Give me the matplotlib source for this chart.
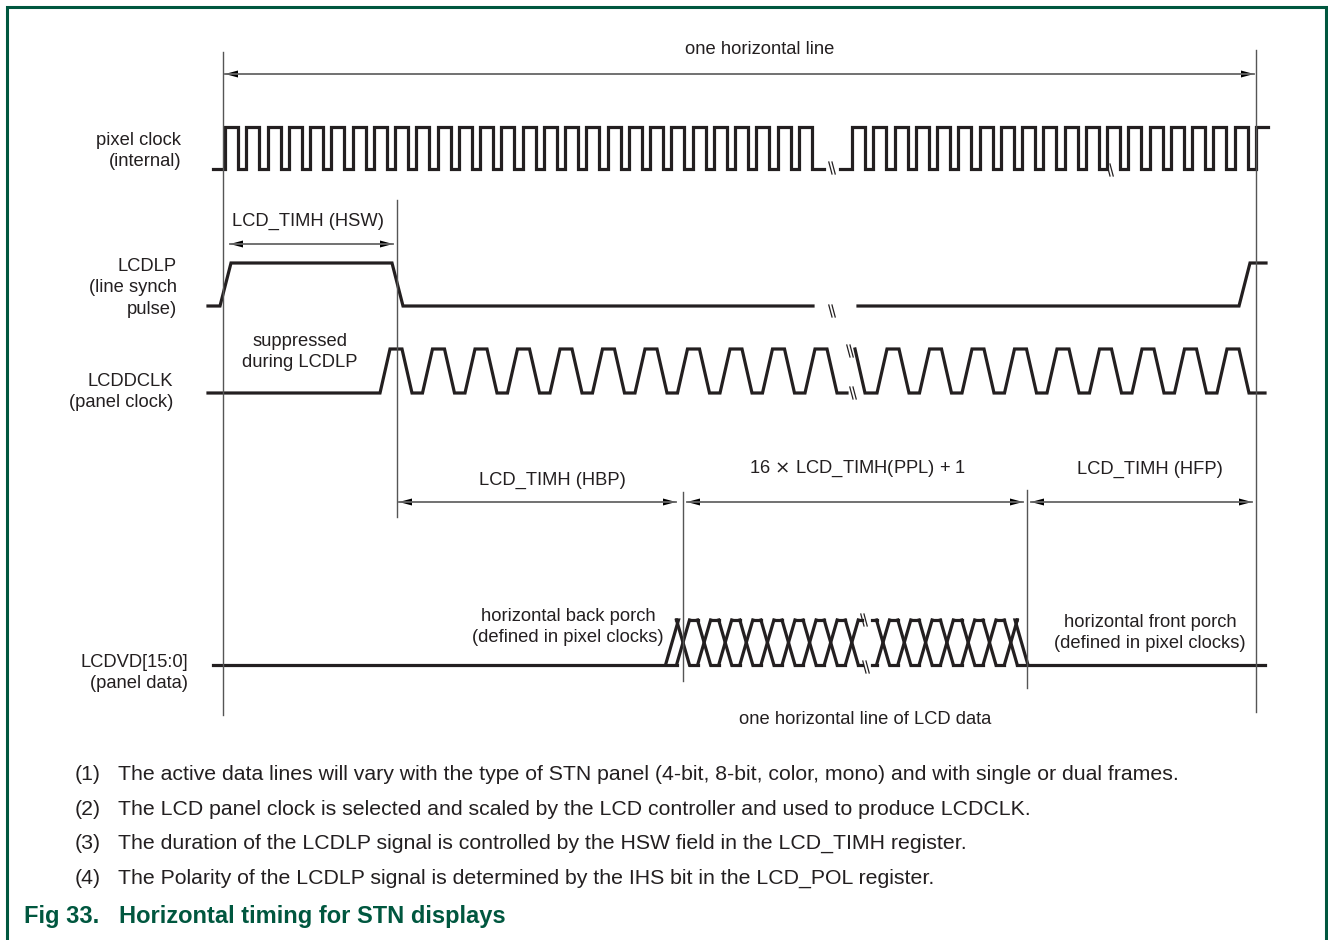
import matplotlib.pyplot as plt
from matplotlib.patches import Polygon

plt.rcParams['font.family'] = ['Liberation Sans', 'DejaVu Sans']

# ---- timing events along one horizontal line (diagram time units) ----
line_start = 223
hsw_end = 397
hbp_end = 683
ppl_end = 1027
line_end = 1256

# waveform levels (high, low)
pclk_lv = (127, 169)
lp_lv = (263, 306)
dclk_lv = (349, 393)
vd_lv = (620, 665)

# pixel clock: start, first rising edge, pulses, stop
pclk_period = 21.25
pclk_high = 13
pclk_segs = [(213, 225, 28, 824), (840, 852, 20, 1268)]

# LCDLP: segment start, rising edge, falling edge, stop
lp_edge = 11
lp_segs = [(208, 220, 392, 813), (858, 1239, None, 1266)]

# LCDDCLK: start, first rise, cycles, stop, starts high?
dclk_period = 42.5
dclk_rise, dclk_high, dclk_fall = 10, 12, 10
dclk_segs = [(208, 380, 11, 847, False), (855, 877, 9, 1265, True)]

# LCDVD bus: start, open, first crossing, crossings, close, stop
vd_period = [21.1, 21.3]
vd_half = 6.5
vd_segs = [(213, 672, 683, 9, None, 862), (872, None, 883, 7, 1021.5, 1265)]

# break marks (time, level)
breaks = [(832, 168), (1110, 170), (832, 311), (850, 351), (853, 393),
          (864, 620), (866, 667)]

labels = [("pixel clock\n(internal)", 181, 151),
          ("LCDLP\n(line synch\npulse)", 177, 288),
          ("LCDDCLK\n(panel clock)", 173, 392),
          ("LCDVD[15:0]\n(panel data)", 188, 673)]

notes = [
    "The active data lines will vary with the type of STN panel (4-bit, 8-bit, color, mono) and with single or dual frames.",
    "The LCD panel clock is selected and scaled by the LCD controller and used to produce LCDCLK.",
    "The duration of the LCDLP signal is controlled by the HSW field in the LCD_TIMH register.",
    "The Polarity of the LCDLP signal is determined by the IHS bit in the LCD_POL register.",
]

sig_col = '#231f20'
txt_col = '#231f20'
green = '#00573f'
fs = 13.2

fig = plt.figure(figsize=(13.28, 9.40), dpi=100)
ax = fig.add_axes([0, 0, 1, 1])
ax.set_xlim(0, 1328)
ax.set_ylim(940, 0)
ax.axis('off')


def wave(xs, ys):
    ax.plot(xs, ys, color=sig_col, lw=2.3, solid_joinstyle='miter')


# pixel clock
hi, lo = pclk_lv
for start, first, n, stop in pclk_segs:
    xs, ys = [start], [lo]
    for k in range(n):
        r = first + k * pclk_period
        f = min(r + pclk_high, stop)
        xs += [r, r, f]
        ys += [lo, hi, hi]
        if f < stop:
            xs += [f]
            ys += [lo]
    xs.append(stop)
    ys.append(ys[-1])
    wave(xs, ys)

# LCDLP
hi, lo = lp_lv
for start, rise, fall, stop in lp_segs:
    xs, ys = [start], [lo]
    if rise is not None:
        xs += [rise, rise + lp_edge]
        ys += [lo, hi]
    if fall is not None:
        xs += [fall, fall + lp_edge]
        ys += [hi, lo]
    xs.append(stop)
    ys.append(ys[-1])
    wave(xs, ys)

# LCDDCLK
hi, lo = dclk_lv
for start, first, n, stop, start_high in dclk_segs:
    if start_high:
        xs, ys = [start, start + dclk_fall], [hi, lo]
    else:
        xs, ys = [start], [lo]
    for k in range(n):
        r = first + k * dclk_period
        xs += [r, r + dclk_rise, r + dclk_rise + dclk_high,
               r + dclk_rise + dclk_high + dclk_fall]
        ys += [lo, hi, hi, lo]
    xs.append(stop)
    ys.append(lo)
    wave(xs, ys)

# LCDVD bus
hi, lo = vd_lv
h = vd_half
for (start, open_at, first, n, close_at, stop), per in zip(vd_segs, vd_period):
    cross = [first + k * per for k in range(n)]
    if open_at is not None:
        wave([start, cross[0] - h], [lo, lo])
        wave([open_at - h, open_at + h, cross[0] - h], [lo, hi, hi])
    else:
        wave([start, cross[0] - h], [lo, lo])
        wave([start, cross[0] - h], [hi, hi])
    for i, c in enumerate(cross):
        wave([c - h, c + h], [hi, lo])
        wave([c - h, c + h], [lo, hi])
        nxt = cross[i + 1] - h if i + 1 < n else None
        if nxt is not None:
            wave([c + h, nxt], [hi, hi])
            wave([c + h, nxt], [lo, lo])
    c = cross[-1]
    if close_at is not None:
        wave([c + h, close_at - h, close_at + h], [hi, hi, lo])
        wave([c + h, stop], [lo, lo])
    else:
        wave([c + h, stop], [hi, hi])
        wave([c + h, stop], [lo, lo])

# break marks
for bx, by in breaks:
    for dx in (-1.6, 1.6):
        ax.plot([bx + dx - 1.6, bx + dx + 1.6], [by - 6, by + 6],
                color=sig_col, lw=0.9)

# vertical reference lines
vlines = [(line_start, 52, 715), (line_end, 50, 712), (hsw_end, 200, 517),
          (hbp_end, 492, 681), (ppl_end, 490, 688)]
for x, y0, y1 in vlines:
    ax.plot([x, x], [y0, y1], color='#555555', lw=1.0)


def arrow(x0, x1, y):
    ax.plot([x0 + 2, x1 - 2], [y, y], color='#666666', lw=1.3)
    for tip, d in ((x0 + 2, 1), (x1 - 2, -1)):
        ax.add_patch(Polygon([[tip, y], [tip + d * 13, y - 3.5],
                              [tip + d * 13, y + 3.5]], closed=True,
                             color='black', lw=0))


arrow(line_start, line_end, 74)
arrow(line_start + 5, hsw_end - 2, 244)
arrow(hsw_end, hbp_end - 5, 502)
arrow(hbp_end + 2, ppl_end - 2, 502)
arrow(ppl_end + 2, line_end - 2, 502)


# annotations
def t(x, y, s, ha='center', size=fs, **kw):
    ax.text(x, y, s, ha=ha, va='center', fontsize=size, color=txt_col,
            linespacing=1.38, **kw)


for s, x, y in labels:
    t(x, y, s, ha='right', multialignment='right')

t((line_start + line_end) / 2 + 20, 50, "one horizontal line")
t(308, 221, "LCD_TIMH (HSW)")
t(300, 352, "suppressed\nduring LCDLP")
t(552, 480, "LCD_TIMH (HBP)")
t(858, 469, "16 $\\times$ LCD_TIMH(PPL) + 1")
t(1150, 469, "LCD_TIMH (HFP)")
t(568, 627, "horizontal back porch\n(defined in pixel clocks)")
t(1150, 633, "horizontal front porch\n(defined in pixel clocks)")
t(865, 719, "one horizontal line of LCD data")

for i, s in enumerate(notes):
    y = 775 + i * 34.4
    t(75, y, "(%d)" % (i + 1), ha='left', size=15.3)
    t(118, y, s, ha='left', size=15.3)

ax.text(24, 916, "Fig 33.", ha='left', va='center', fontsize=17,
        fontweight='bold', color=green)
ax.text(119, 916, "Horizontal timing for STN displays", ha='left',
        va='center', fontsize=17, fontweight='bold', color=green)

# frame
ax.plot([7, 7, 1326, 1326], [940, 7, 7, 940], color=green, lw=2.2,
        solid_joinstyle='miter')

fig.savefig('out.png', dpi=100)
